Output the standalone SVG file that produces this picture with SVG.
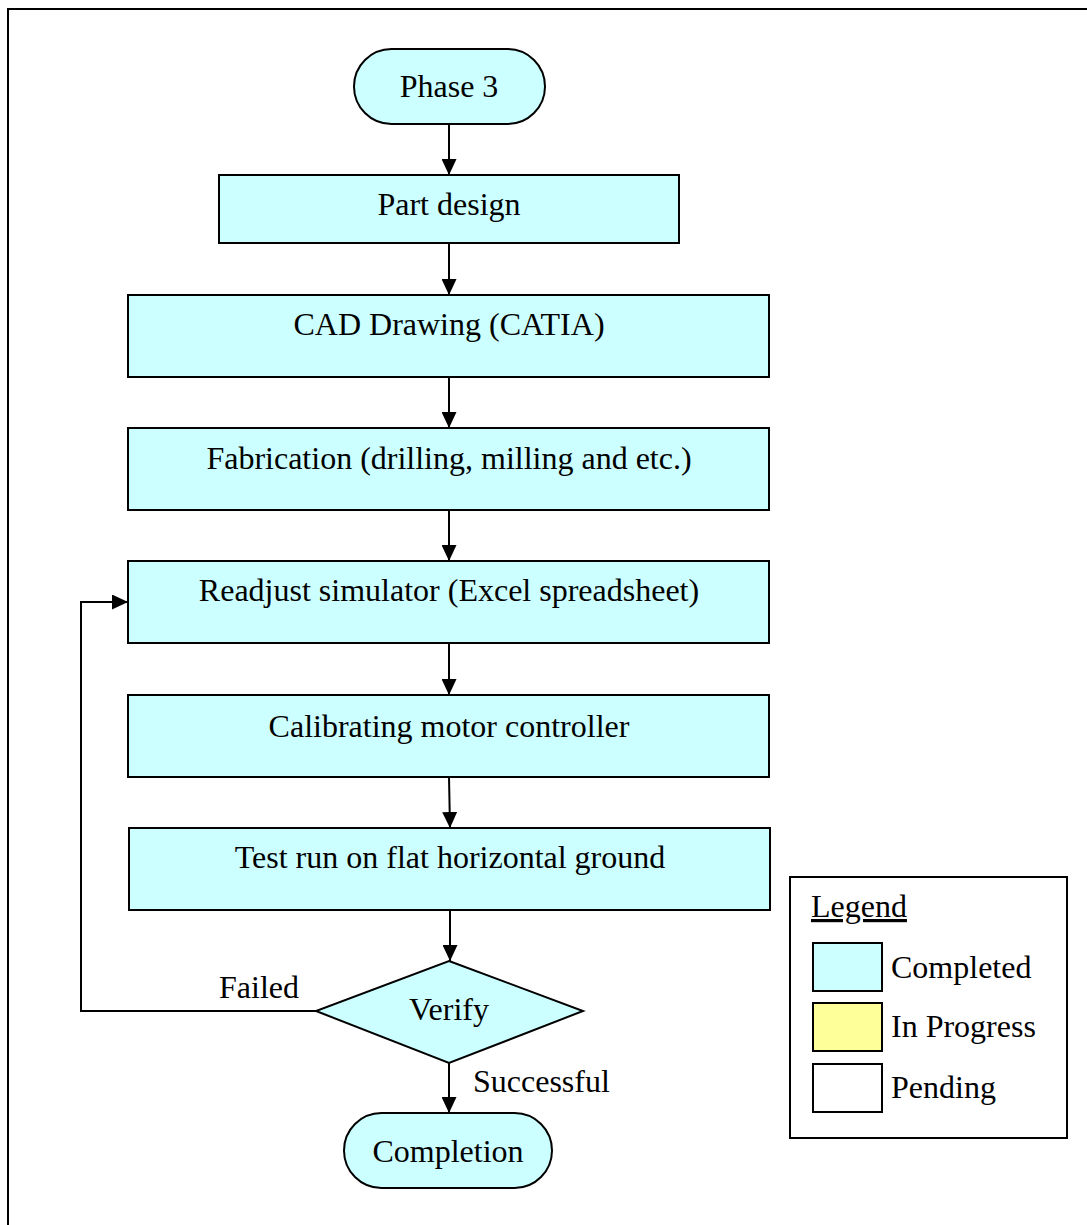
<svg xmlns="http://www.w3.org/2000/svg" width="1087" height="1225" viewBox="0 0 1087 1225">
  <style>
    .box { fill: #CCFFFF; stroke: #000; stroke-width: 2; }
    .lbl { font-family: "Liberation Serif", "Times New Roman", serif; font-size: 32px; fill: #000; }
    .mid { text-anchor: middle; }
    .wire { fill: none; stroke: #000; stroke-width: 2; }
  </style>
  <defs>
    <marker id="head" markerUnits="userSpaceOnUse" viewBox="0 0 16 15" refX="16" refY="7.5" markerWidth="16" markerHeight="15" orient="auto">
      <path d="M0,0 L16,7.5 L0,15 z" fill="#000"/>
    </marker>
  </defs>

  <rect width="1087" height="1225" fill="#fff"/>
  <!-- page frame -->
  <rect x="8" y="9" width="1100" height="1240" fill="none" stroke="#000" stroke-width="2"/>

  <!-- connectors -->
  <g id="connectors">
    <line class="wire" x1="449" y1="124" x2="449" y2="175" marker-end="url(#head)"/>
    <line class="wire" x1="449" y1="243" x2="449" y2="295" marker-end="url(#head)"/>
    <line class="wire" x1="449" y1="377" x2="449" y2="428" marker-end="url(#head)"/>
    <line class="wire" x1="449" y1="510" x2="449" y2="561" marker-end="url(#head)"/>
    <line class="wire" x1="449" y1="643" x2="449" y2="695" marker-end="url(#head)"/>
    <line class="wire" x1="449" y1="777" x2="450" y2="828" marker-end="url(#head)"/>
    <line class="wire" x1="450" y1="910" x2="450" y2="961" marker-end="url(#head)"/>
    <line class="wire" x1="449" y1="1063" x2="449" y2="1113" marker-end="url(#head)"/>
    <polyline class="wire" points="316,1011 81,1011 81,602 128,602" marker-end="url(#head)"/>
    <text class="lbl" x="219" y="998">Failed</text>
    <text class="lbl" x="473" y="1092">Successful</text>
  </g>

  <g id="phase3">
    <rect class="box" x="354" y="49" width="191" height="75" rx="37.5" ry="37.5"/>
    <text class="lbl mid" x="449" y="97">Phase 3</text>
  </g>

  <g id="part-design">
    <rect class="box" x="219" y="175" width="460" height="68"/>
    <text class="lbl mid" x="449" y="215">Part design</text>
  </g>

  <g id="cad-drawing">
    <rect class="box" x="128" y="295" width="641" height="82"/>
    <text class="lbl mid" x="449" y="335">CAD Drawing (CATIA)</text>
  </g>

  <g id="fabrication">
    <rect class="box" x="128" y="428" width="641" height="82"/>
    <text class="lbl mid" x="449" y="469">Fabrication (drilling, milling and etc.)</text>
  </g>

  <g id="readjust">
    <rect class="box" x="128" y="561" width="641" height="82"/>
    <text class="lbl mid" x="449" y="601">Readjust simulator (Excel spreadsheet)</text>
  </g>

  <g id="calibrating">
    <rect class="box" x="128" y="695" width="641" height="82"/>
    <text class="lbl mid" x="449" y="737">Calibrating motor controller</text>
  </g>

  <g id="test-run">
    <rect class="box" x="129" y="828" width="641" height="82"/>
    <text class="lbl mid" x="450" y="868">Test run on flat horizontal ground</text>
  </g>

  <g id="verify">
    <polygon class="box" points="449,961 583,1011 449,1063 316,1011"/>
    <text class="lbl mid" x="449" y="1020">Verify</text>
  </g>

  <g id="completion">
    <rect class="box" x="344" y="1113" width="208" height="75" rx="37.5" ry="37.5"/>
    <text class="lbl mid" x="448" y="1162">Completion</text>
  </g>

  <g id="legend">
    <rect x="790" y="877" width="277" height="261" fill="#fff" stroke="#000" stroke-width="2"/>
    <text class="lbl" x="811" y="917" text-decoration="underline">Legend</text>
    <rect x="813" y="943" width="69" height="48" fill="#CCFFFF" stroke="#000" stroke-width="2"/>
    <text class="lbl" x="891" y="978">Completed</text>
    <rect x="813" y="1003" width="69" height="48" fill="#FFFF99" stroke="#000" stroke-width="2"/>
    <text class="lbl" x="891" y="1037">In Progress</text>
    <rect x="813" y="1064" width="69" height="48" fill="#fff" stroke="#000" stroke-width="2"/>
    <text class="lbl" x="891" y="1098">Pending</text>
  </g>
</svg>
